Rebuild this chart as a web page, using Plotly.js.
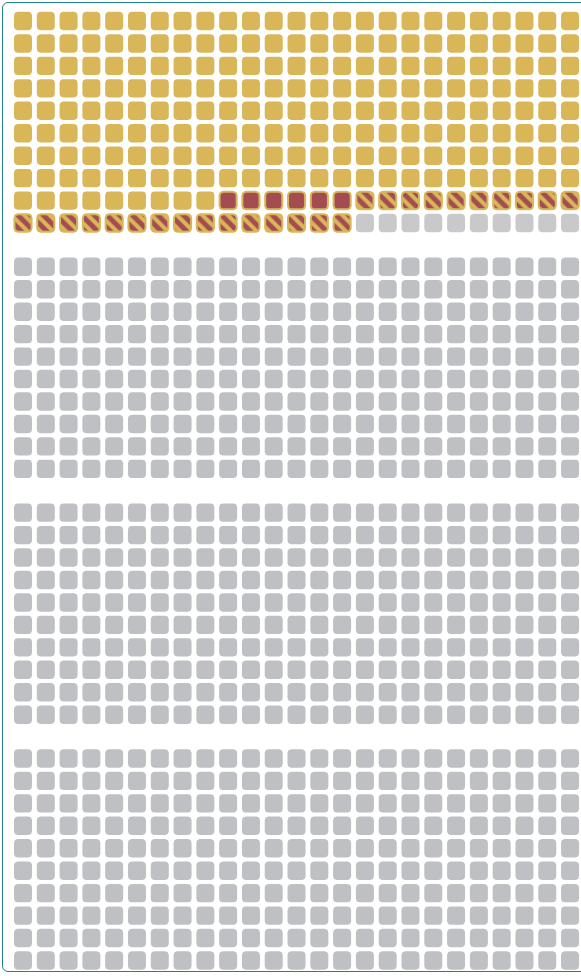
<!DOCTYPE html>
<html>
<head>
<meta charset="utf-8">
<script src="https://cdn.plot.ly/plotly-3.0.1.min.js"></script>
<style>
  html, body { margin: 0; padding: 0; background: #ffffff; overflow: hidden; }
  #wrap { position: relative; width: 581px; height: 976px; }
  #chart { position: absolute; left: 0; top: 0; width: 581px; height: 976px; }
  #frame { position: absolute; left: 2px; top: 2px; width: 640px; height: 968px;
           border: 1.5px solid #1f7f8c; border-radius: 6px; pointer-events: none; }
</style>
</head>
<body>
<div id="wrap">
  <div id="chart"></div>
  <div id="frame"></div>
</div>
<script>
// ---- data ----
const categories = ['Group A', 'Group B', 'Group C', 'Group D', 'Remaining'];
const counts = [209, 6, 25, 10, 750];

// ---- styles ----
const fillColors = ['#d9b658', '#a34c52', '#a34c52', '#c9c9cb', '#bfc0c4'];
const lineColors = [null, '#d9b658', '#d9b658', null, null];
const patterns = [null, null, '\\', null, null];

const COLS = 25, ROWS = 10, PER_BLOCK = COLS * ROWS;
const BLOCK_STEP = 10.95;   // vertical distance between blocks, in row units
const CW = 0.79, CH = 0.82; // cell size in axis units
const RX = 0.16, RY = 0.16; // corner radius in axis units

function roundedRect(cx, cy, w, h, rx, ry) {
  const xs = [], ys = [];
  const x0 = cx - w / 2, x1 = cx + w / 2, y0 = cy - h / 2, y1 = cy + h / 2;
  const corners = [
    [x1 - rx, y0 + ry, -Math.PI / 2],
    [x1 - rx, y1 - ry, 0],
    [x0 + rx, y1 - ry, Math.PI / 2],
    [x0 + rx, y0 + ry, Math.PI]
  ];
  const N = 5;
  corners.forEach(([ccx, ccy, a0]) => {
    for (let k = 0; k <= N; k++) {
      const a = a0 + (Math.PI / 2) * k / N;
      xs.push(ccx + rx * Math.cos(a));
      ys.push(ccy + ry * Math.sin(a));
    }
  });
  xs.push(xs[0]); ys.push(ys[0]);
  return [xs, ys];
}

const traces = [];
let idx = 0;
categories.forEach((cat, ci) => {
  const X = [], Y = [];
  const bordered = !!lineColors[ci];
  const shrinkX = bordered ? 0.04 : 0, shrinkY = bordered ? 0.04 : 0;
  for (let n = 0; n < counts[ci]; n++, idx++) {
    const block = Math.floor(idx / PER_BLOCK);
    const within = idx % PER_BLOCK;
    const row = Math.floor(within / COLS);
    const col = within % COLS;
    const cy = block * BLOCK_STEP + row;
    const [xs, ys] = roundedRect(col, cy, CW - shrinkX, CH - shrinkY, RX, RY);
    X.push(...xs, null); Y.push(...ys, null);
  }
  const tr = {
    type: 'scatter', mode: 'lines', name: cat,
    x: X, y: Y, fill: 'toself',
    fillcolor: fillColors[ci],
    line: { width: bordered ? 2 : 0, color: lineColors[ci] || fillColors[ci] },
    hoverinfo: 'name', showlegend: false
  };
  if (patterns[ci]) {
    tr.fillpattern = { shape: patterns[ci], bgcolor: fillColors[ci], fgcolor: '#d9b658',
                       size: 9, solidity: 0.45 };
  }
  traces.push(tr);
});

const layout = {
  width: 581, height: 976,
  margin: { l: 0, r: 0, t: 0, b: 0, pad: 0 },
  paper_bgcolor: 'rgba(0,0,0,0)', plot_bgcolor: 'rgba(0,0,0,0)',
  xaxis: { range: [-1.009, 24.48], visible: false, fixedrange: true },
  yaxis: { range: [42.54, -0.935], visible: false, fixedrange: true },
  showlegend: false
};

Plotly.newPlot('chart', traces, layout, { displayModeBar: false, staticPlot: true });
</script>
</body>
</html>
